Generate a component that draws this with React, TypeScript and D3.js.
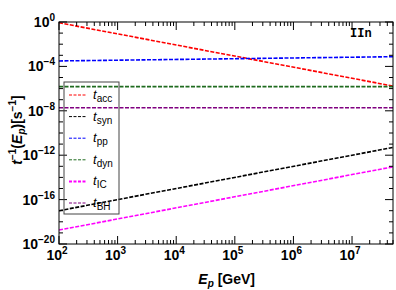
import React from 'react';
import * as d3 from 'd3';

// photon energy grid (GeV) and inverse timescales (s^-1)
const energies = [1e2, 5e7];
const tAcc = [0.85, 1.7e-6];
const tSyn = [1.0e-17, 5.0e-12];
const tPP = [3.1e-4, 7.5e-4];
const tDyn = [1.5e-6, 1.5e-6];
const tIC = [1.8e-19, 9.0e-14];
const tBH = [1.9e-8, 1.9e-8];

const xTickExps = [2, 3, 4, 5, 6, 7];
const yTickExps = [0, -4, -8, -12, -16, -20];

const series = [
  { key: 'acc', values: tAcc, color: '#ff0000' },
  { key: 'syn', values: tSyn, color: '#000000' },
  { key: 'pp', values: tPP, color: '#0000ff' },
  { key: 'dyn', values: tDyn, color: '#1f6b1f' },
  { key: 'IC', values: tIC, color: '#ff00ff' },
  { key: 'BH', values: tBH, color: '#800080' },
];

const W = 396;
const H = 290;
const margin = { top: 22, right: 3, bottom: 46, left: 59 };

const App = () => {
  const iw = W - margin.left - margin.right;
  const ih = H - margin.top - margin.bottom;

  const x = d3.scaleLog().domain([1e2, 5e7]).range([0, iw]);
  const y = d3.scaleLog().domain([1e-20, 1]).range([ih, 0]);

  const line = d3.line<[number, number]>()
    .x(d => x(d[0]))
    .y(d => y(d[1]));

  // minor ticks on x: 2..9 per decade
  const xMinor: number[] = [];
  for (let e = 2; e <= 7; e++) {
    for (let m = 2; m <= 9; m++) {
      const v = m * Math.pow(10, e);
      if (v <= 5e7) xMinor.push(v);
    }
  }
  const yDecades = d3.range(-20, 1);

  const font = 'Liberation Sans, Arial, sans-serif';

  return (
    <svg width={W} height={H} style={{ position: 'absolute', left: 0, top: 0, background: '#fff' }}>
      <g transform={`translate(${margin.left},${margin.top})`}>
        <defs>
          <clipPath id="plot">
            <rect x={0} y={0} width={iw} height={ih} />
          </clipPath>
        </defs>

        {/* curves */}
        <g clipPath="url(#plot)">
          {series.map(s => (
            <path
              key={s.key}
              d={line(energies.map((e, i) => [e, s.values[i]]) as [number, number][]) || ''}
              fill="none"
              stroke={s.color}
              strokeWidth={1.6}
              strokeDasharray="4,1.5"
            />
          ))}
        </g>

        {/* frame */}
        <rect x={0} y={0} width={iw} height={ih} fill="none" stroke="#000" strokeWidth={1} />

        {/* x ticks (bottom + top) */}
        {xTickExps.map(e => {
          const px = x(Math.pow(10, e));
          return (
            <g key={'xm' + e}>
              <line x1={px} x2={px} y1={ih} y2={ih - 8} stroke="#000" />
              <line x1={px} x2={px} y1={0} y2={8} stroke="#000" />
              <text x={px - 2} y={ih + 16} fontFamily={font} fontWeight="bold" fontSize={14} textAnchor="middle">
                10<tspan dy={-6} fontSize={10}>{e}</tspan>
              </text>
            </g>
          );
        })}
        {xMinor.map((v, i) => {
          const px = x(v);
          return (
            <g key={'xn' + i}>
              <line x1={px} x2={px} y1={ih} y2={ih - 4} stroke="#000" />
              <line x1={px} x2={px} y1={0} y2={4} stroke="#000" />
            </g>
          );
        })}

        {/* y ticks (left + right) */}
        {yDecades.map(e => {
          const py = y(Math.pow(10, e));
          const len = e % 4 === 0 ? 8 : 4;
          return (
            <g key={'yt' + e}>
              <line x1={0} x2={len} y1={py} y2={py} stroke="#000" />
              <line x1={iw} x2={iw - len} y1={py} y2={py} stroke="#000" />
            </g>
          );
        })}
        {yTickExps.map(e => {
          const py = y(Math.pow(10, e));
          return (
            <text key={'yl' + e} x={-4} y={py + 5} fontFamily={font} fontWeight="bold" fontSize={14} textAnchor="end">
              10<tspan dy={-6} fontSize={10}>{e === 0 ? '0' : '\u2212' + Math.abs(e)}</tspan>
            </text>
          );
        })}

        {/* IIn label */}
        <text x={291} y={15} fontFamily="Liberation Mono, Courier New, monospace" fontWeight="bold" fontSize={12}>IIn</text>

        {/* legend */}
        <g transform="translate(5,60)">
          <rect x={0} y={0} width={55} height={132} fill="none" stroke="#444" strokeWidth={1} />
          {series.map((s, i) => {
            const ly = 13 + i * 21.6;
            return (
              <g key={'lg' + s.key}>
                <line x1={5} x2={23} y1={ly} y2={ly} stroke={s.color} strokeWidth={s.key === 'IC' ? 2 : 1} strokeDasharray="3,1.5" />
                <text x={29} y={ly + 4} fontFamily={font} fontSize={13}>
                  <tspan fontStyle="italic">t</tspan>
                  <tspan dy={3} fontSize={10}>{s.key}</tspan>
                </text>
              </g>
            );
          })}
        </g>
      </g>

      {/* axis titles */}
      <text x={255} y={284} fontFamily={font} fontWeight="bold" fontSize={14} textAnchor="end">
        <tspan fontStyle="italic">E</tspan>
        <tspan dy={3} fontSize={10} fontStyle="italic">p</tspan>
        <tspan dy={-3}> [GeV]</tspan>
      </text>
      <text transform="translate(22,130) rotate(-90)" fontFamily={font} fontWeight="bold" fontSize={14} textAnchor="middle">
        <tspan fontStyle="italic">t</tspan>
        <tspan dy={-6} fontSize={10}>{'\u22121'}</tspan>
        <tspan dy={6}>(</tspan>
        <tspan fontStyle="italic">E</tspan>
        <tspan dy={3} fontSize={10} fontStyle="italic">p</tspan>
        <tspan dy={-3}>)[s</tspan>
        <tspan dy={-6} fontSize={10}>{'\u22121'}</tspan>
        <tspan dy={6}>]</tspan>
      </text>
    </svg>
  );
};

export default App;
